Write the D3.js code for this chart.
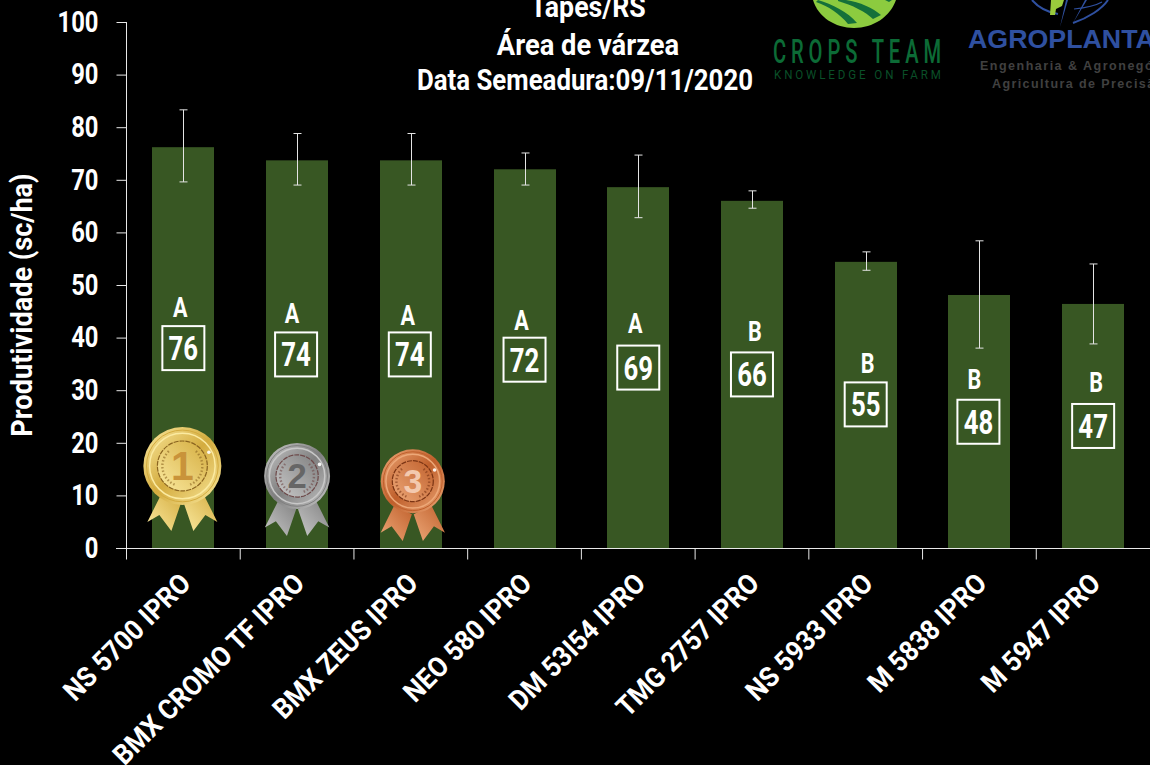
<!DOCTYPE html>
<html><head><meta charset="utf-8">
<script src="https://d3js.org/d3.v7.min.js"></script>
<style>html,body{margin:0;background:#000;overflow:hidden}svg{display:block}
text{font-family:"Roboto","Liberation Sans",sans-serif;fill:#fff}</style></head>
<body><svg id="c" width="1150" height="765"></svg>
<script>
const categories=["NS 5700 IPRO","BMX CROMO TF IPRO","BMX ZEUS IPRO","NEO 580 IPRO","DM 53I54 IPRO","TMG 2757 IPRO","NS 5933 IPRO","M 5838 IPRO","M 5947 IPRO"];
const values=[76.2,73.7,73.7,72,68.6,66,54.4,48.1,46.4];
const errHigh=[83.3,78.8,78.8,75.1,74.7,67.9,56.3,58.4,54];
const errLow=[69.6,69,69,69,62.8,64.6,52.8,38,38.8];
const boxLabels=["76","74","74","72","69","66","55","48","47"];
const letters=["A","A","A","A","A","B","B","B","B"];
const boxLevels=[38,36.8,36.8,35.8,34.3,33,27.3,24,23.2];
const letterLevels=[45.8,44.6,44.3,43.3,42.8,41.2,35.2,32.2,31.6];
const boxOffsets=[0,-1,-1,0,0,0,0,-1,0];
const letterOffsets=[-3,-5,-3,-3,-3,3,2,-5,3];
const titleLines=["Tapes/RS","Área de várzea","Data Semeadura:09/11/2020"];
const titleCenters=[588,588,585];
const titleBases=[17,54.5,90];
const titleSqueeze=[.89,.91,.86];
const medals=[{i:0,level:15.6,dx:-1,c:["#fbeaa0","#d4ac3f","#8a6420"],n:"1",r:39,nc:"#c9933a",rs:1},{i:1,level:13.7,dx:0,c:["#c8c8c8","#808080","#6e4a4a"],n:"2",r:33,nc:"#666",rs:1.09},{i:2,level:12.7,dx:2,c:["#eda878","#c0602c","#7a3414"],n:"3",r:32,nc:"#f3c9ae",rs:1.12}];

const svg=d3.select("#c");
const x=d3.scaleBand().domain(categories).range([126.5,1150]);
const y=d3.scaleLinear().domain([0,100]).range([548,22]);
const bw=62, cx=c=>x(c)+x.bandwidth()/2;
const fit=(sel,k)=>sel.each(function(){this.setAttribute("lengthAdjust","spacingAndGlyphs");this.setAttribute("textLength",this.getComputedTextLength()*k);});
const squeeze=(sel,px,py,w)=>sel.each(function(){const k=w/this.getComputedTextLength();this.setAttribute("transform",`translate(${px},${py}) scale(${k},1)`);});

const defs=svg.append("defs");
medals.forEach((m,k)=>{
 const g=defs.append("linearGradient").attr("id","mg"+k).attr("x1",0).attr("y1",0).attr("x2",1).attr("y2",1);
 g.append("stop").attr("offset",0).attr("stop-color",m.c[0]);
 g.append("stop").attr("offset",.5).attr("stop-color",m.c[1]);
 g.append("stop").attr("offset",1).attr("stop-color",m.c[0]);
 const h=defs.append("linearGradient").attr("id","mh"+k).attr("x1",0).attr("y1",1).attr("x2",1).attr("y2",0);
 h.append("stop").attr("offset",0).attr("stop-color",m.c[0]);
 h.append("stop").attr("offset",1).attr("stop-color",m.c[1]);
});

svg.selectAll("rect.bar").data(categories).join("rect").attr("class","bar")
 .attr("x",c=>Math.round(cx(c)-bw/2)).attr("width",bw).attr("y",(c,i)=>y(values[i])).attr("height",(c,i)=>y(0)-y(values[i])).attr("fill","#385723");

const eb=svg.append("g").attr("stroke","#e4e4e4").attr("stroke-width",1).attr("fill","none");
categories.forEach((c,i)=>{const X=Math.round(cx(c))+.5;
 eb.append("line").attr("x1",X).attr("x2",X).attr("y1",y(errHigh[i])).attr("y2",y(errLow[i]));
 [errHigh[i],errLow[i]].forEach(v=>eb.append("line").attr("x1",X-4).attr("x2",X+4).attr("y1",y(v)).attr("y2",y(v)));
});

const ya=svg.append("g").attr("transform","translate(126.5,0)").call(d3.axisLeft(y).tickValues(d3.range(0,101,10)).tickSize(10).tickPadding(18));
ya.selectAll("line,path").attr("stroke","#e8e8e8");
ya.select("path").attr("d","M0,22V548");
ya.selectAll("text").style("font-size","29px").style("font-weight","700").attr("fill","#fff").call(fit,.82);
const xa=svg.append("g").attr("transform","translate(0,548.5)");
xa.append("line").attr("x1",116).attr("x2",1150).attr("stroke","#e8e8e8");
xa.selectAll("line.t").data(categories).join("line").attr("class","t").attr("x1",c=>x(c)).attr("x2",c=>x(c)).attr("y1",0).attr("y2",11).attr("stroke","#e8e8e8");
svg.selectAll("text.cat").data(categories).join("text").attr("class","cat")
 .attr("text-anchor","end").style("font-size","28px").style("font-weight","700")
 .attr("transform",c=>`translate(${cx(c)+9},${585}) rotate(-45)`).text(c=>c).call(fit,.93);
svg.append("text").attr("transform","translate(32,305) rotate(-90)").attr("text-anchor","middle").style("font-size","29px").style("font-weight","700").text("Produtividade (sc/ha)").call(fit,.935);

categories.forEach((c,i)=>{const X=cx(c)+boxOffsets[i];
 const g=svg.append("g").attr("transform",`translate(${X},${y(boxLevels[i])})`);
 g.append("rect").attr("x",-21).attr("y",-22).attr("width",42).attr("height",44).attr("fill","none").attr("stroke","#fff").attr("stroke-width",2);
 g.append("text").attr("text-anchor","middle").attr("y",12).style("font-size","33px").style("font-weight","700").text(boxLabels[i]).call(fit,.78);
 svg.append("text").attr("x",cx(c)+letterOffsets[i]).attr("y",y(letterLevels[i])+10).attr("text-anchor","middle").style("font-size","27px").style("font-weight","700").text(letters[i]).call(fit,.8);
});

svg.selectAll("text.tt").data(titleLines).join("text").attr("class","tt").attr("x",(d,i)=>titleCenters[i]).attr("y",(d,i)=>titleBases[i])
 .attr("text-anchor","middle").style("font-size","30px").style("font-weight","700")
 .text(d=>d).each(function(d,i){d3.select(this).call(fit,titleSqueeze[i]);});

medals.forEach((m,k)=>{const X=cx(categories[m.i])+m.dx, Y=y(m.level), r=m.r, s=r/39*m.rs;
 const g=svg.append("g").attr("transform",`translate(${X},${Y})`);
 [-1,1].forEach(d=>{
  g.append("path").attr("d",`M${d*20*s},${26*s} L${d*35*s},${56*s} L${d*23*s},${49*s} L${d*11*s},${65*s} L${d*1*s},${36*s}Z`).attr("fill",`url(#mh${k})`);
 });
 g.append("circle").attr("r",r).attr("fill",`url(#mg${k})`);
 g.append("circle").attr("r",r*.92).attr("fill","none").attr("stroke",m.c[1]).attr("stroke-width",1);
 g.append("circle").attr("r",r*.84).attr("fill","none").attr("stroke",m.c[0]).attr("stroke-width",1.5);
 g.append("circle").attr("r",r*.64).attr("fill",`url(#mh${k})`).attr("stroke",m.c[2]).attr("stroke-width",1.2).attr("stroke-dasharray","5 1");
 [-1,1].forEach(d=>g.append("path").attr("d",`M${d*r*.2},${r*.48} A${r*.52},${r*.52} 0 0 ${d>0?0:1} ${d*r*.32},${-r*.4}`).attr("fill","none").attr("stroke",m.c[2]).attr("stroke-width",2.4).attr("stroke-dasharray","1.5 2").attr("opacity",.6));
 g.append("text").attr("text-anchor","middle").attr("y",r*.37).style("font-size",(r*1.05)+"px").style("font-weight","700").style("font-family","Liberation Sans").style("fill",m.nc).text(m.n);
 g.append("circle").attr("cx",r*.68).attr("cy",-r*.35).attr("r",1.8).attr("fill","#fff").attr("opacity",.9);
});

const lg=svg.append("g");
lg.append("path").attr("d","M813,0 C818,17 835,28 854,28 C873,28 890,17 896,0 Z").attr("fill","#8ccb3f");
lg.append("path").attr("d","M818,0 C832,4 848,12 857,23 L848,24 C840,14 828,6 816,2 Z").attr("fill","#14703a");
lg.append("path").attr("d","M846,0 C860,2 873,8 881,15 L873,19 C866,12 852,5 838,1 L838,0 Z").attr("fill","#14703a");
lg.append("path").attr("d","M885,0 L892,0 L889,2 Z").attr("fill","#14703a");
lg.append("text").style("font-size","33px").style("font-weight","500").style("letter-spacing","8px").style("fill","#0c6b36").text("CROPS TEAM").call(squeeze,773,63,173);
lg.append("text").style("font-size","12px").style("font-weight","400").style("letter-spacing","3px").style("fill","#0a4f28").text("KNOWLEDGE ON FARM").call(squeeze,774,79,170);
const blue="#2f50a0";
lg.append("path").attr("d","M1032,0 C1038,7 1047,12 1058,14").attr("fill","none").attr("stroke",blue).attr("stroke-width",2);
lg.append("path").attr("d","M1108,0 C1102,9 1088,18 1073,23").attr("fill","none").attr("stroke",blue).attr("stroke-width",2);
lg.append("path").attr("d","M1074,9 C1084,8 1095,6 1102,2").attr("fill","none").attr("stroke",blue).attr("stroke-width",1.2);
lg.append("path").attr("d","M1051,0 L1064,0 L1062,6 L1056,9 L1055,15 L1050,15 Z").attr("fill","#9acb3c");
lg.append("path").attr("d","M1060,27 L1066,0 L1068,0 Z M1073,23 L1085,0 L1087,0 Z").attr("fill",blue);
lg.append("text").style("font-size","25px").style("font-weight","700").style("font-family","Liberation Sans").style("fill",blue).text("AGROPLANTA").call(squeeze,968,47.5,187);
lg.append("text").attr("x",980).attr("y",70).style("font-size","12.5px").style("font-weight","700").style("font-family","Liberation Sans").style("fill","#404040").style("letter-spacing","1.5px").text("Engenharia & Agronegócios");
lg.append("text").attr("x",992).attr("y",88).style("font-size","12.5px").style("font-weight","700").style("font-family","Liberation Sans").style("fill","#404040").style("letter-spacing","1.4px").text("Agricultura de Precisão");
</script></body></html>
